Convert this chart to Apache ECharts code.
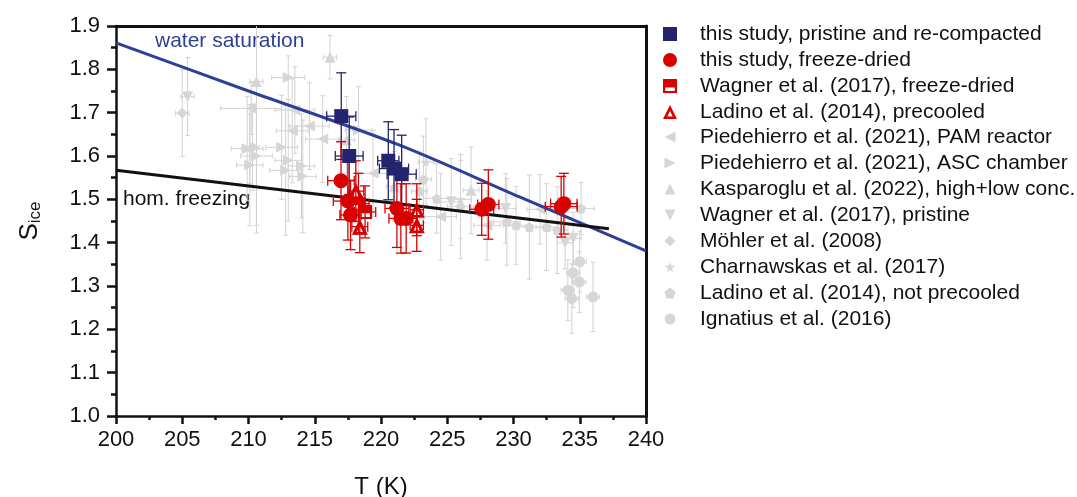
<!DOCTYPE html>
<html><head><meta charset="utf-8">
<script src="https://cdn.jsdelivr.net/npm/echarts@6/dist/echarts.min.js"></script>
<style>html,body{margin:0;padding:0;background:#fff}#c{width:1077px;height:497px}</style>
</head><body><div id="c"></div>
<script>
// ---- data: [T (K), S_ice, T error, S error] ----
const pristineRecompacted = [[217.0,1.692,1.1,0.10],[217.6,1.600,1.05,0.09],[220.55,1.589,0.8,0.09],[220.98,1.571,1.1,0.09],[221.56,1.558,1.1,0.09]];
const freezeDried = [[216.98,1.543,1.0,0.09],[217.5,1.496,1.1,0.09],[217.7,1.464,0.8,0.08],[221.2,1.479,0.9,0.09],[221.5,1.456,0.9,0.08],[221.9,1.456,0.8,0.08],[227.6,1.477,0.9,0.06],[228.1,1.488,0.8,0.08],[233.6,1.483,1.2,0.07],[233.8,1.490,1.0,0.07]];
const wagnerFreezeDried = [[218.3,1.490,0.8,0.07],[218.8,1.471,0.8,0.06]];
const ladinoPrecooled = [[218.1,1.519,0.6,0.07],[218.4,1.437,0.6,0.06],[222.7,1.476,0.5,0.06],[222.7,1.440,0.5,0.06]];
const piedehierroPAM = [[210.2,1.710,2.3,0.06],[213.5,1.706,1.5,0.10],[214.6,1.669,1.5,0.10],[213.3,1.658,1.2,0.12],[215.6,1.639,1.3,0.10],[219.4,1.560,1.2,0.10],[228.0,1.440,1.0,0.08],[232.0,1.477,1.0,0.08],[224.5,1.460,1.2,0.10]];
const piedehierroASC = [[213.0,1.781,1.25,0.05],[209.9,1.617,1.2,0.12],[210.6,1.600,1.2,0.16],[212.5,1.620,1.2,0.12],[213.0,1.590,1.0,0.14],[214.0,1.577,1.0,0.12],[214.1,1.553,1.0,0.13],[212.8,1.567,1.2,0.15],[218.3,1.660,1.0,0.10],[210.1,1.579,1.0,0.14]];
const kasparoglu = [[216.15,1.828,0.5,0.05],[210.6,1.772,0.5,0.35],[217.4,1.637,0.6,0.10],[226.8,1.521,0.6,0.10],[221.0,1.530,0.6,0.08]];
const wagnerPristine = [[205.4,1.737,0.5,0.09],[233.9,1.400,0.6,0.06],[234.5,1.410,0.6,0.06],[229.4,1.479,0.8,0.08],[225.3,1.494,0.8,0.10]];
const moehler = [[205.0,1.699,0.5,0.10],[210.3,1.620,0.5,0.10]];
const charnawskas = [[223.4,1.586,0.6,0.10],[210.1,1.617,0.6,0.08],[226.0,1.500,0.8,0.09]];
const ladinoNotPrecooled = [[223.2,1.546,0.6,0.10],[222.9,1.519,0.6,0.09],[224.2,1.502,1.0,0.08],[226.0,1.483,1.0,0.12],[229.5,1.448,1.0,0.10],[230.2,1.440,1.0,0.09],[231.2,1.436,1.0,0.12],[232.5,1.436,0.8,0.10],[233.3,1.429,0.8,0.10],[235.1,1.479,1.0,0.06]];
const ignatius = [[235.0,1.356,0.5,0.07],[234.5,1.330,0.5,0.08],[234.97,1.309,0.5,0.07],[234.1,1.290,0.5,0.07],[234.4,1.271,0.5,0.08],[236.0,1.275,0.5,0.08]];
const waterSaturation = [[200,1.861],[210,1.750],[221.4,1.625],[230.5,1.505],[240,1.381]];
const homFreezing = [[200,1.567],[237.2,1.432]];
const legendNames = ['this study, pristine and re-compacted','this study, freeze-dried','Wagner et al. (2017), freeze-dried','Ladino et al. (2014), precooled','Piedehierro et al. (2021), PAM reactor','Piedehierro et al. (2021), ASC chamber','Kasparoglu et al. (2022), high+low conc.','Wagner et al. (2017), pristine','Möhler et al. (2008)','Charnawskas et al. (2017)','Ladino et al. (2014), not precooled','Ignatius et al. (2016)'];

const NAVY='#24246e', RED='#d80000', BLUE='#2e3f98', GRAY='#d6d6d6', GBAR='#d2d2d2';
const halfSquare='path://M0,0 H10 V10 H0 Z M1.6,6 V8.6 H8.4 V6 Z';
const hollowTri='path://M5,0 L10,10 L0,10 Z M5,4.2 L3.1,8.3 L6.9,8.3 Z';
const triLeft='path://M0,5 L10,0 L10,10 Z';
const triRight='path://M10,5 L0,0 L0,10 Z';
const triUp='path://M5,0 L10,10 L0,10 Z';
const triDown='path://M0,0 L10,0 L5,10 Z';
const starPath='path://M5,0 L6.2,3.6 L10,3.6 L6.9,5.9 L8.1,9.5 L5,7.3 L1.9,9.5 L3.1,5.9 L0,3.6 L3.8,3.6 Z';
const pentPath='path://M5,0 L10,3.8 L8.1,10 L1.9,10 L0,3.8 Z';

function errRender(color, cap, width){
  return function(params, api){
    const T=api.value(0), S=api.value(1), dT=api.value(2), dS=api.value(3);
    const t=api.coord([T,S+dS]), b=api.coord([T,S-dS]), l=api.coord([T-dT,S]), r=api.coord([T+dT,S]);
    const st={stroke:color,lineWidth:width};
    const L=(x1,y1,x2,y2)=>({type:'line',shape:{x1,y1,x2,y2},style:st});
    return {type:'group',children:[
      L(t[0],t[1],b[0],b[1]), L(t[0]-cap,t[1],t[0]+cap,t[1]), L(b[0]-cap,b[1],b[0]+cap,b[1]),
      L(l[0],l[1],r[0],r[1]), L(l[0],l[1]-cap,l[0],l[1]+cap), L(r[0],r[1]-cap,r[0],r[1]+cap)
    ]};
  };
}
function errSeries(data,color,cap,width,z){
  return {type:'custom',name:'err',data:data,renderItem:errRender(color,cap,width),encode:{x:0,y:1},clip:true,z:z,silent:true};
}
function scat(name,data,symbol,size,color,z){
  return {type:'scatter',name:name,data:data,symbol:symbol,symbolSize:size,itemStyle:{color:color,opacity:1},z:z,encode:{x:0,y:1}};
}
const series=[
  errSeries(piedehierroPAM,GBAR,2.5,1,1), errSeries(piedehierroASC,GBAR,2.5,1,1), errSeries(kasparoglu,GBAR,2.5,1,1),
  errSeries(wagnerPristine,GBAR,2.5,1,1), errSeries(moehler,GBAR,2.5,1,1), errSeries(charnawskas,GBAR,2.5,1,1),
  errSeries(ladinoNotPrecooled,GBAR,2.5,1,1), errSeries(ignatius,GBAR,2.5,1,1),
  scat(legendNames[4],piedehierroPAM,triLeft,11,GRAY,2),
  scat(legendNames[5],piedehierroASC,triRight,11,GRAY,2),
  scat(legendNames[6],kasparoglu,triUp,11,GRAY,2),
  scat(legendNames[7],wagnerPristine,triDown,11,GRAY,2),
  scat(legendNames[8],moehler,'diamond',11,GRAY,2),
  scat(legendNames[9],charnawskas,starPath,10,GRAY,2),
  scat(legendNames[10],ladinoNotPrecooled,pentPath,10,GRAY,2),
  scat(legendNames[11],ignatius,'circle',11,GRAY,2),
  {type:'line',name:'water saturation',data:waterSaturation,smooth:0.3,symbol:'none',lineStyle:{color:BLUE,width:3},z:5,silent:true},
  {type:'line',name:'hom. freezing',data:homFreezing,symbol:'none',lineStyle:{color:'#111',width:3},z:5,silent:true},
  errSeries(pristineRecompacted,NAVY,5,1.3,6), errSeries(freezeDried,RED,5,1.3,6),
  errSeries(wagnerFreezeDried,RED,5,1.3,6), errSeries(ladinoPrecooled,RED,5,1.3,6),
  scat(legendNames[0],pristineRecompacted,'rect',14,NAVY,8),
  scat(legendNames[1],freezeDried,'circle',15,RED,8),
  scat(legendNames[2],wagnerFreezeDried,halfSquare,14,RED,8),
  scat(legendNames[3],ladinoPrecooled,hollowTri,16,RED,8)
];
const FONT='"Liberation Sans", Arial, sans-serif';
const chart=echarts.init(document.getElementById('c'),null,{renderer:'canvas'});
chart.setOption({
  animation:false,
  backgroundColor:'#fff',
  textStyle:{fontFamily:FONT},
  grid:{left:116,right:431,top:26,bottom:81,containLabel:false,outerBoundsMode:'none'},
  xAxis:[{type:'value',min:200,max:240,interval:5,
    name:'T (K)',nameLocation:'middle',nameGap:59,nameTextStyle:{fontSize:24,color:'#111',fontFamily:FONT},
    axisLine:{show:true,onZero:false,lineStyle:{color:'#111',width:2.5}},
    axisTick:{show:true,inside:false,length:8,lineStyle:{color:'#111',width:2.5}},
    minorTick:{show:true,splitNumber:2,length:4,lineStyle:{color:'#111',width:2.5}},
    axisLabel:{fontSize:22,color:'#111',margin:13,fontFamily:FONT},splitLine:{show:false}},
   {type:'value',position:'top',min:200,max:240,axisLine:{show:true,onZero:false,lineStyle:{color:'#111',width:3}},axisTick:{show:false},axisLabel:{show:false},splitLine:{show:false}}],
  yAxis:[{type:'value',min:1.0,max:1.9,interval:0.1,
    name:'{a|S}{b|ice}',nameLocation:'middle',nameGap:72,nameRotate:90,
    nameTextStyle:{rich:{a:{fontSize:26,color:'#111',fontFamily:FONT},b:{fontSize:17,color:'#111',fontFamily:FONT,padding:[12,0,0,0]}}},
    axisLine:{show:true,onZero:false,lineStyle:{color:'#111',width:2.5}},
    axisTick:{show:true,inside:false,length:9,lineStyle:{color:'#111',width:2.5}},
    minorTick:{show:true,splitNumber:2,length:5,lineStyle:{color:'#111',width:2.5}},
    axisLabel:{fontSize:22,color:'#111',margin:16,fontFamily:FONT,formatter:v=>v.toFixed(1)},splitLine:{show:false}},
   {type:'value',position:'right',min:1.0,max:1.9,axisLine:{show:true,onZero:false,lineStyle:{color:'#111',width:3}},axisTick:{show:false},axisLabel:{show:false},splitLine:{show:false}}],
  legend:[
    {data:legendNames.slice(0,4),orient:'vertical',left:658,top:18.5,itemWidth:14,itemHeight:14,itemGap:5,
     textStyle:{fontSize:21,color:'#111',fontFamily:FONT,padding:[0,0,0,18]},selectedMode:false},
    {data:legendNames.slice(4),orient:'vertical',left:659.5,top:121.5,itemWidth:11,itemHeight:11,itemGap:5,
     textStyle:{fontSize:21,color:'#111',fontFamily:FONT,padding:[0,0,0,19.5]},selectedMode:false}
  ],
  graphic:[
    {type:'text',left:155,top:31,style:{text:'water saturation',fontSize:21,fill:BLUE,fontFamily:FONT}},
    {type:'text',left:123,top:189,style:{text:'hom. freezing',fontSize:21,fill:'#111',fontFamily:FONT}}
  ],
  series:series
});
</script></body></html>
